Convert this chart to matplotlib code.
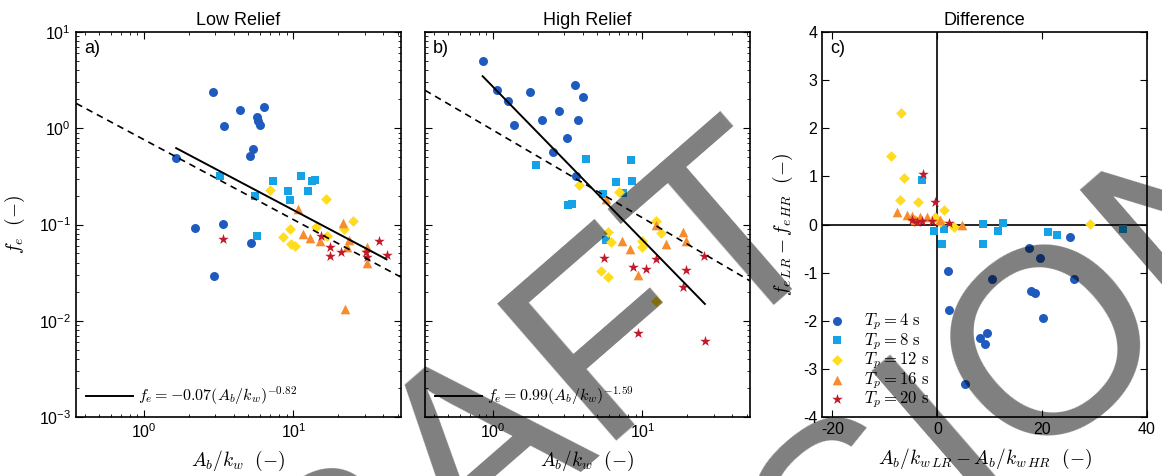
import numpy as np
import matplotlib
matplotlib.use('Agg')
import matplotlib.pyplot as plt
from matplotlib.ticker import FuncFormatter, LogLocator, NullFormatter

plt.rcParams['font.family'] = ['Liberation Sans', 'DejaVu Sans']
plt.rcParams['mathtext.fontset'] = 'cm'
plt.rcParams['axes.unicode_minus'] = False

periods = [4, 8, 12, 16, 20]
colors = ['#1f5bbf', '#16a2e6', '#ffdc1e', '#f78c2d', '#c21a2a']
markers = ['o', 's', 'D', '^', '*']
sizes = [42, 34, 30, 48, 64]

# low relief: A_b/k_w and f_e per wave period
lr_x = [[2.89, 4.41, 6.32, 5.70, 5.80, 6.01, 3.41, 5.33, 5.14, 1.64, 3.38, 2.18, 5.22, 2.95],
        [3.24, 7.31, 5.56, 9.16, 9.45, 11.26, 12.5, 13.4, 14.0, 5.71],
        [6.93, 16.4, 25.2, 21.8, 14.1, 9.55, 8.53, 9.66, 10.3, 16.8],
        [10.75, 11.6, 13.0, 15.0, 21.5, 23.5, 31.2, 22.9, 30.9, 22.1],
        [3.38, 15.2, 17.7, 17.7, 20.9, 30.4, 30.9, 37.4, 42.0]]
lr_y = [[2.39, 1.54, 1.67, 1.31, 1.19, 1.07, 1.05, 0.61, 0.51, 0.487, 0.1016, 0.0916, 0.065, 0.0292],
        [0.318, 0.28, 0.199, 0.222, 0.178, 0.316, 0.222, 0.283, 0.29, 0.076],
        [0.226, 0.185, 0.108, 0.090, 0.094, 0.090, 0.0738, 0.063, 0.060, 0.0767],
        [0.146, 0.080, 0.0727, 0.068, 0.103, 0.069, 0.059, 0.058, 0.040, 0.0131],
        [0.071, 0.0767, 0.059, 0.0475, 0.0515, 0.0515, 0.0464, 0.067, 0.0487]]

# high relief
hr_x = [[0.852, 1.063, 1.25, 1.78, 1.39, 2.13, 2.77, 3.55, 4.02, 3.72, 3.12, 2.52, 3.59],
        [1.94, 4.19, 8.36, 6.64, 8.58, 5.46, 7.47, 3.20, 3.37, 5.74],
        [3.74, 6.98, 5.93, 6.15, 5.27, 5.84, 12.3, 13.3, 9.9, 9.9, 12.3],
        [5.74, 7.28, 8.24, 12.4, 14.3, 18.7, 19.5, 9.4],
        [5.55, 8.71, 10.6, 12.4, 19.7, 18.7, 25.8, 9.3, 26.2]]
hr_y = [[5.02, 2.49, 1.91, 2.39, 1.07, 1.23, 1.52, 2.81, 2.09, 1.21, 0.80, 0.56, 0.316],
        [0.415, 0.483, 0.472, 0.276, 0.282, 0.205, 0.212, 0.158, 0.164, 0.069],
        [0.259, 0.217, 0.083, 0.0655, 0.0332, 0.0283, 0.108, 0.0813, 0.068, 0.058, 0.0162],
        [0.182, 0.067, 0.0558, 0.100, 0.063, 0.083, 0.068, 0.030],
        [0.045, 0.036, 0.0345, 0.0438, 0.0337, 0.0222, 0.0475, 0.00755, 0.0062]]

# differences LR - HR
d_x = [[25.3, 17.4, 19.6, 10.4, 26.1, 1.97, 17.9, 18.7, 2.16, 20.1, 9.46, 8.06, 9.14, 5.33],
       [-2.92, -0.57, 1.21, 0.89, 8.70, 8.70, 11.5, 12.5, 21.2, 22.9, 35.4],
       [-6.86, -8.76, -6.41, -7.05, -3.68, 1.21, -0.38, 3.11, 29.1, 0.57, -4.2],
       [-7.68, -5.77, -4.82, -3.24, -1.97, 0.44, 4.70, -4.19],
       [-2.73, -0.51, -4.82, -2.92, -1.01, 2.16, -3.87]]
d_y = [[-0.266, -0.495, -0.703, -1.127, -1.127, -0.973, -1.376, -1.431, -1.778, -1.937, -2.262, -2.366, -2.484, -3.322],
       [0.925, -0.128, -0.087, -0.405, 0.01, -0.412, -0.128, 0.037, -0.149, -0.218, -0.094],
       [2.31, 1.43, 0.973, 0.509, 0.461, 0.30, 0.162, -0.046, 0.01, 0.05, 0.09],
       [0.266, 0.197, 0.177, 0.162, 0.150, 0.094, -0.01, 0.094],
       [1.05, 0.474, 0.094, 0.073, 0.079, 0.037, 0.058]]

# fits: f_e = exp(a) * (A_b/k_w)^b
lr_fit = (-0.07, -0.82)
hr_fit = (0.99, -1.59)
# dashed reference curves: f_e = c * (A_b/k_w)^p
lr_ref = (0.76, -0.83)
hr_ref = (0.955, -0.91)

fig = plt.figure(figsize=(11.62, 4.76), dpi=100)
ax1 = fig.add_axes([0.0654, 0.1239, 0.2797, 0.8089])
ax2 = fig.add_axes([0.3657, 0.1239, 0.2797, 0.8089])
ax3 = fig.add_axes([0.7074, 0.1239, 0.2797, 0.8089])

logfmt = FuncFormatter(lambda v, p: r'$\mathregular{10^{%d}}$' % round(np.log10(v)))

for ax, xs, ys, fit, ref, title, tag in [(ax1, lr_x, lr_y, lr_fit, lr_ref, 'Low Relief', 'a)'),
                                         (ax2, hr_x, hr_y, hr_fit, hr_ref, 'High Relief', 'b)')]:
    for i in range(5):
        ax.scatter(xs[i], ys[i], s=sizes[i], c=colors[i], marker=markers[i], linewidths=0, zorder=3)
    allx = np.concatenate(xs)
    xf = np.array([allx.min(), allx.max()])
    ax.plot(xf, np.exp(fit[0]) * xf ** fit[1], color='k', lw=1.4, zorder=4,
            label=r'$f_e = %.2f(A_b/k_w)^{%.2f}$' % fit)
    xr = np.array([0.3, 60])
    ax.plot(xr, ref[0] * xr ** ref[1], color='k', lw=1.2, ls=(0, (4, 3)), zorder=4)
    ax.set_xscale('log')
    ax.set_yscale('log')
    ax.set_xlim(0.35, 52.5)
    ax.set_ylim(1e-3, 1e1)
    ax.xaxis.set_major_locator(LogLocator(base=10, numticks=10))
    ax.yaxis.set_major_locator(LogLocator(base=10, numticks=10))
    ax.xaxis.set_major_formatter(logfmt)
    ax.yaxis.set_major_formatter(logfmt)
    ax.xaxis.set_minor_formatter(NullFormatter())
    ax.yaxis.set_minor_formatter(NullFormatter())
    ax.set_title(title, fontsize=13, pad=5)
    ax.text(0.025, 0.958, tag, transform=ax.transAxes, fontsize=13, va='center')
    ax.set_xlabel(r'$A_b/k_w\ \ (-)$', fontsize=14)
    ax.xaxis.set_label_coords(0.5, -0.083)
    ax.legend(loc='lower left', frameon=False, fontsize=11.5, handlelength=3.0,
              handletextpad=0.3, borderaxespad=0.2)

ax1.set_ylabel(r'$f_e\ \ (-)$', fontsize=14)
ax1.yaxis.set_label_coords(-0.15, 0.5)
ax2.tick_params(labelleft=False)

# difference panel
for i in range(5):
    ax3.scatter(d_x[i], d_y[i], s=sizes[i], c=colors[i], marker=markers[i], linewidths=0, zorder=3,
                label=r'$T_p = %d\ \mathrm{s}$' % periods[i])
ax3.axhline(0, color='k', lw=1.2, zorder=2)
ax3.axvline(0, color='k', lw=1.2, zorder=2)
ax3.set_xlim(-22, 40)
ax3.set_ylim(-4, 4)
ax3.set_xticks([-20, 0, 20, 40])
ax3.set_yticks(range(-4, 5))
ax3.set_title('Difference', fontsize=13, pad=5)
ax3.text(0.025, 0.958, 'c)', transform=ax3.transAxes, fontsize=13, va='center')
ax3.set_xlabel(r'$A_b/k_{w\,LR} - A_b/k_{w\,HR}\ \ (-)$', fontsize=14)
ax3.xaxis.set_label_coords(0.5, -0.078)
ax3.set_ylabel(r'$f_{e\,LR} - f_{e\,HR}\ \ (-)$', fontsize=14)
ax3.yaxis.set_label_coords(-0.083, 0.5)
ax3.legend(loc='lower left', frameon=False, fontsize=12, handlelength=1.0, handletextpad=1.1,
           labelspacing=-0.07, borderaxespad=0.1, borderpad=0.3, scatterpoints=1)

for ax in (ax1, ax2, ax3):
    ax.tick_params(which='both', direction='in', top=True, right=True, labelsize=11.5)
    ax.tick_params(which='major', length=5, width=0.8)
    ax.tick_params(which='minor', length=2.5, width=0.6)
    for sp in ax.spines.values():
        sp.set_linewidth(1.2)

# watermark
fig.text(175 / 1162, 1 - 806 / 476, 'DRAFT', fontsize=190, rotation=41, rotation_mode='anchor',
         ha='left', va='baseline', color='k', alpha=0.5, zorder=10)
fig.text(431 / 1162, 1 - 994 / 476, 'VERSION', fontsize=190, rotation=41, rotation_mode='anchor',
         ha='left', va='baseline', color='k', alpha=0.5, zorder=10)

fig.savefig('out.png', dpi=100)
